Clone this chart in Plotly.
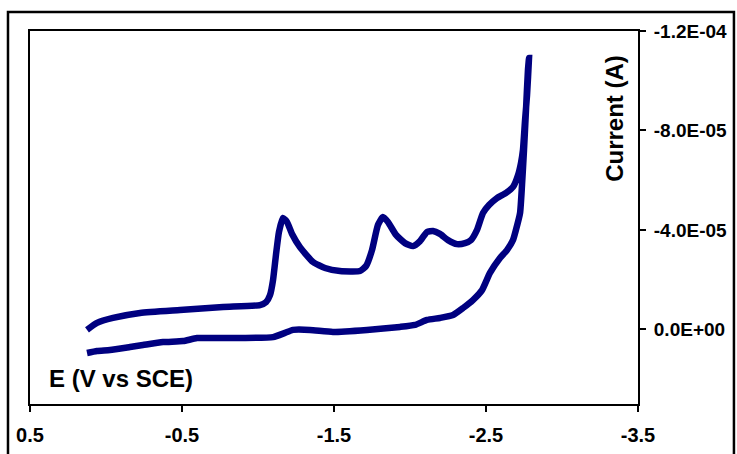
import plotly.graph_objects as go

# Potential (V vs SCE) and current (A)
potential = [0.125, 0.059, -0.046, -0.224, -0.487, -0.770, -1.013, -1.053, -1.079, -1.099,
             -1.118, -1.138, -1.164, -1.191, -1.224, -1.276, -1.362, -1.441, -1.539, -1.671,
             -1.711, -1.750, -1.789, -1.822, -1.855, -1.908, -1.967, -2.020, -2.066, -2.112,
             -2.151, -2.197, -2.250, -2.309, -2.362, -2.401, -2.441, -2.480, -2.520, -2.572,
             -2.632, -2.678, -2.711, -2.730, -2.743, -2.757, -2.770, -2.783,
             -2.776, -2.763, -2.750, -2.737, -2.724, -2.697, -2.678, -2.638, -2.592, -2.526,
             -2.474, -2.414, -2.349, -2.283, -2.197, -2.112, -2.033, -1.934, -1.717, -1.493,
             -1.342, -1.230, -1.178, -1.099, -0.796, -0.599, -0.507, -0.375, -0.243, -0.158,
             -0.026, 0.059, 0.125]

current = [0.2e-6, -2.6e-6, -4.6e-6, -6.6e-6, -7.8e-6, -9.0e-6, -9.8e-6, -11.0e-6, -13.8e-6, -19.9e-6,
           -29.9e-6, -39.2e-6, -44.8e-6, -43.2e-6, -38.4e-6, -33.1e-6, -27.1e-6, -24.7e-6, -23.5e-6, -23.5e-6,
           -25.5e-6, -31.9e-6, -42.0e-6, -45.2e-6, -43.2e-6, -38.0e-6, -34.7e-6, -33.5e-6, -35.5e-6, -39.2e-6,
           -39.6e-6, -38.4e-6, -35.9e-6, -34.3e-6, -34.7e-6, -35.9e-6, -40.0e-6, -46.8e-6, -50.0e-6, -52.8e-6,
           -54.9e-6, -57.3e-6, -62.1e-6, -66.9e-6, -72.1e-6, -84.2e-6, -94.3e-6, -109.1e-6,
           -104.3e-6, -88.2e-6, -72.1e-6, -58.1e-6, -46.8e-6, -40.0e-6, -36.0e-6, -31.9e-6, -28.7e-6, -22.7e-6,
           -15.8e-6, -11.8e-6, -8.6e-6, -5.8e-6, -4.6e-6, -3.8e-6, -1.8e-6, -1.0e-6, 0.2e-6, 1.0e-6,
           0.2e-6, 0.2e-6, 1.4e-6, 3.1e-6, 3.5e-6, 3.5e-6, 4.7e-6, 5.1e-6, 6.3e-6, 7.1e-6,
           8.3e-6, 8.7e-6, 9.5e-6]

x_ticks = [0.5, -0.5, -1.5, -2.5, -3.5]
x_tick_labels = ["0.5", "-0.5", "-1.5", "-2.5", "-3.5"]
y_ticks = [-1.2e-4, -8.0e-5, -4.0e-5, 0.0]
y_tick_labels = ["-1.2E-04", "-8.0E-05", "-4.0E-05", "0.0E+00"]

x_title = "E (V vs SCE)"
y_title = "Current (A)"

fig = go.Figure()
fig.add_trace(go.Scatter(
    x=potential, y=current, mode="lines",
    line=dict(color="#000080", width=6.5, shape="spline", smoothing=0.5),
    hoverinfo="skip", showlegend=False,
))

font_family = "Liberation Sans, Arial, sans-serif"

fig.update_layout(
    width=737, height=454,
    margin=dict(l=30, r=99, t=31, b=50, autoexpand=False),
    paper_bgcolor="white", plot_bgcolor="white",
    showlegend=False,
    font=dict(family=font_family, color="black"),
    xaxis=dict(
        range=[0.5, -3.5], tickvals=x_ticks, ticktext=x_tick_labels,
        showgrid=False, zeroline=False, automargin=False,
        showline=True, linecolor="black", linewidth=2, mirror=True,
        ticks="outside", ticklen=6, tickwidth=1.5, tickcolor="black",
        tickfont=dict(family=font_family, size=20, color="black", weight="bold"),
        ticklabelstandoff=6,
    ),
    yaxis=dict(
        range=[3.0e-5, -1.2e-4], tickvals=y_ticks, ticktext=y_tick_labels,
        side="right",
        showgrid=False, zeroline=False, automargin=False,
        showline=True, linecolor="black", linewidth=2, mirror=True,
        ticks="outside", ticklen=6, tickwidth=1.5, tickcolor="black",
        tickfont=dict(family=font_family, size=19, color="black", weight="bold"),
        ticklabelstandoff=4,
    ),
    annotations=[
        dict(text=y_title, xref="paper", yref="paper", x=0.962, y=0.767,
             textangle=-90, showarrow=False, xanchor="center", yanchor="middle",
             font=dict(family=font_family, size=24, color="black", weight="bold")),
        dict(text=x_title, xref="paper", yref="paper", x=0.028, y=0.0697,
             showarrow=False, xanchor="left", yanchor="middle",
             font=dict(family=font_family, size=24, color="black", weight="bold")),
    ],
    shapes=[
        dict(type="rect", xref="paper", yref="paper",
             x0=-0.0362, x1=1.1578, y0=-0.2, y1=1.0509,
             line=dict(color="black", width=2.5), fillcolor="rgba(0,0,0,0)", layer="below"),
    ],
)

fig.write_html(
    "out.html",
    config={"displayModeBar": False},
    post_script="document.body.style.margin='0';document.body.style.overflow='hidden';",
)
